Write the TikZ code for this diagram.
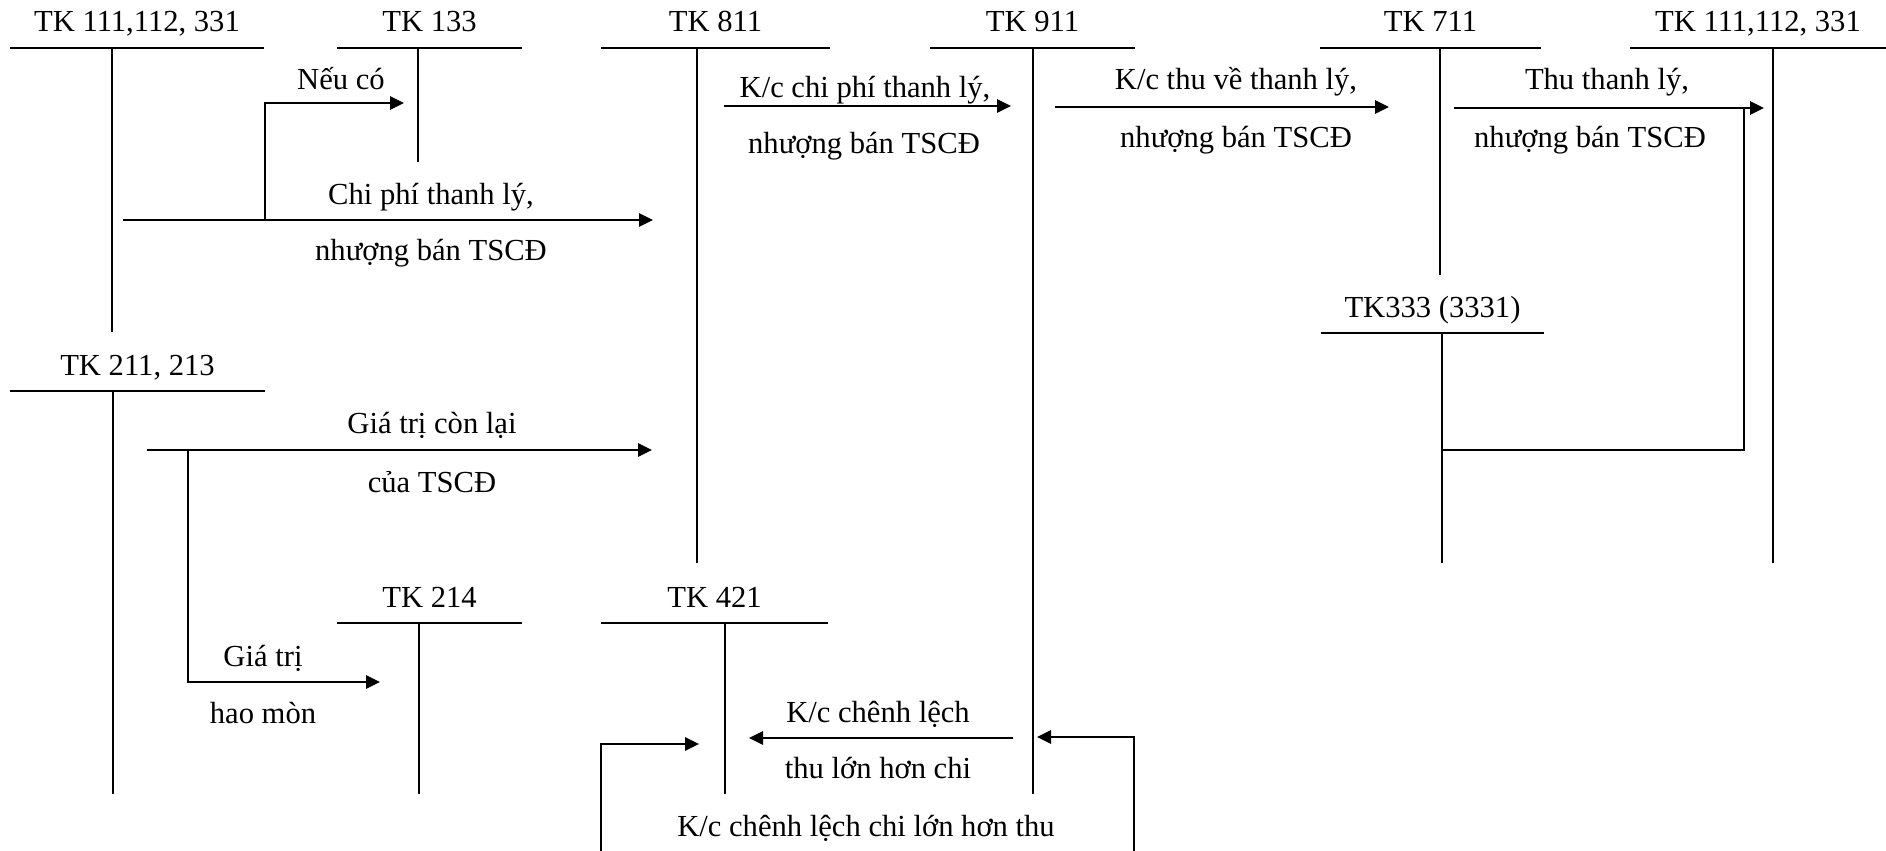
\documentclass[tikz,border=0pt]{standalone}
\usepackage{fontspec}
\setmainfont{Liberation Serif}
\usetikzlibrary{arrows.meta, positioning, calc}

% T-account: name, left, right, stem x, bar y, stem end y, title
\newcommand{\taccount}[7]{%
	\draw[acc] (#2,#5) coordinate (#1-l) -- (#3,#5) coordinate (#1-r);
	\draw[acc] (#4,#5) coordinate (#1-t) -- (#4,#6) coordinate (#1-b);
	\node[lbl] (#1) at ({(#2+#3)/2},#5-16) {#7};
}

\begin{document}
\begin{tikzpicture}[x=0.5pt, y=-0.5pt,
		acc/.style={line width=1pt},
		flow/.style={line width=1.4pt, -{Triangle[length=7pt,width=6.5pt]}},
		link/.style={line width=1.2pt},
		lbl/.style={anchor=base, inner sep=0pt, font=\fontsize{15.3}{18}\selectfont}]
	\useasboundingbox (0,0) rectangle (1886,851);

	% accounts
	\taccount{tka}{10}{264}{112}{48}{332}{TK 111,112, 331}
	\taccount{tkb}{337}{522}{418}{48}{162}{TK 133}
	\taccount{tkc}{601}{830}{697}{48}{563}{TK 811}
	\taccount{tkd}{930}{1135}{1033}{48}{794}{TK 911}
	\taccount{tke}{1320}{1541}{1440}{48}{275}{TK 711}
	\taccount{tkf}{1630}{1886}{1773}{48}{563}{TK 111,112, 331}
	\taccount{tkg}{10}{265}{113}{391}{794}{TK 211, 213}
	\taccount{tkh}{1321}{1544}{1442}{333}{563}{TK333 (3331)}
	\taccount{tki}{337}{522}{419}{623}{794}{TK 214}
	\taccount{tkj}{601}{828}{725}{623}{794}{TK 421}

	% arrow ends
	\coordinate (nc-s) at (265,220);
	\coordinate (nc-e) at (404,103);
	\coordinate (cp-s) at (123,220);
	\coordinate (cp-e) at (653,220);
	\coordinate (kc1-s) at (724,106);
	\coordinate (kc1-e) at (1011,106);
	\coordinate (kc2-s) at (1055,107);
	\coordinate (kc2-e) at (1389,107);
	\coordinate (tt-s) at (1454,108);
	\coordinate (tt-e) at (1764,108);
	\coordinate (vat-s) at (1442,450);
	\coordinate (vat-e) at (1744,108);
	\coordinate (gt-s) at (147,450);
	\coordinate (gt-e) at (652,450);
	\coordinate (hm-s) at (188,450);
	\coordinate (hm-e) at (380,682);
	\coordinate (lo-s) at (1013,738);
	\coordinate (lo-e) at (749,738);
	\coordinate (ll-s) at (601,851);
	\coordinate (ll-e) at (699,744);
	\coordinate (lr-s) at (1134,851);
	\coordinate (lr-e) at (1037,737);

	% connectors
	\draw[flow] (nc-s) |- (nc-e);
	\draw[flow] (cp-s) -- (cp-e);
	\draw[flow] (kc1-s) -- (kc1-e);
	\draw[flow] (kc2-s) -- (kc2-e);
	\draw[flow] (tt-s) -- (tt-e);
	\draw[link] (vat-s) -| (vat-e);
	\draw[flow] (gt-s) -- (gt-e);
	\draw[flow] (hm-s) |- (hm-e);
	\draw[flow] (lo-s) -- (lo-e);
	\draw[flow] (ll-s) |- (ll-e);
	\draw[flow] (lr-s) |- (lr-e);

	% texts
	\node[lbl] (t-nc) at (341,89) {Nếu có};
	\node[lbl] (t-cp1) at (431,204) {Chi phí thanh lý,};
	\node[lbl] (t-cp2) at (431,260) {nhượng bán TSCĐ};
	\node[lbl] (t-kc11) at (865,97) {K/c chi phí thanh lý,};
	\node[lbl] (t-kc12) at (864,153) {nhượng bán TSCĐ};
	\node[lbl] (t-kc21) at (1236,90) {K/c thu về thanh lý,};
	\node[lbl] (t-kc22) at (1236,147) {nhượng bán TSCĐ};
	\node[lbl] (t-tt1) at (1607,90) {Thu thanh lý,};
	\node[lbl] (t-tt2) at (1590,147) {nhượng bán TSCĐ};
	\node[lbl] (t-gt1) at (432,433) {Giá trị còn lại};
	\node[lbl] (t-gt2) at (432,492) {của TSCĐ};
	\node[lbl] (t-hm1) at (263,666) {Giá trị};
	\node[lbl] (t-hm2) at (263,723) {hao mòn};
	\node[lbl] (t-lo1) at (878,722) {K/c chênh lệch};
	\node[lbl] (t-lo2) at (878,778) {thu lớn hơn chi};
	\node[lbl] (t-ll) at (866,836) {K/c chênh lệch chi lớn hơn thu};
\end{tikzpicture}
\end{document}
